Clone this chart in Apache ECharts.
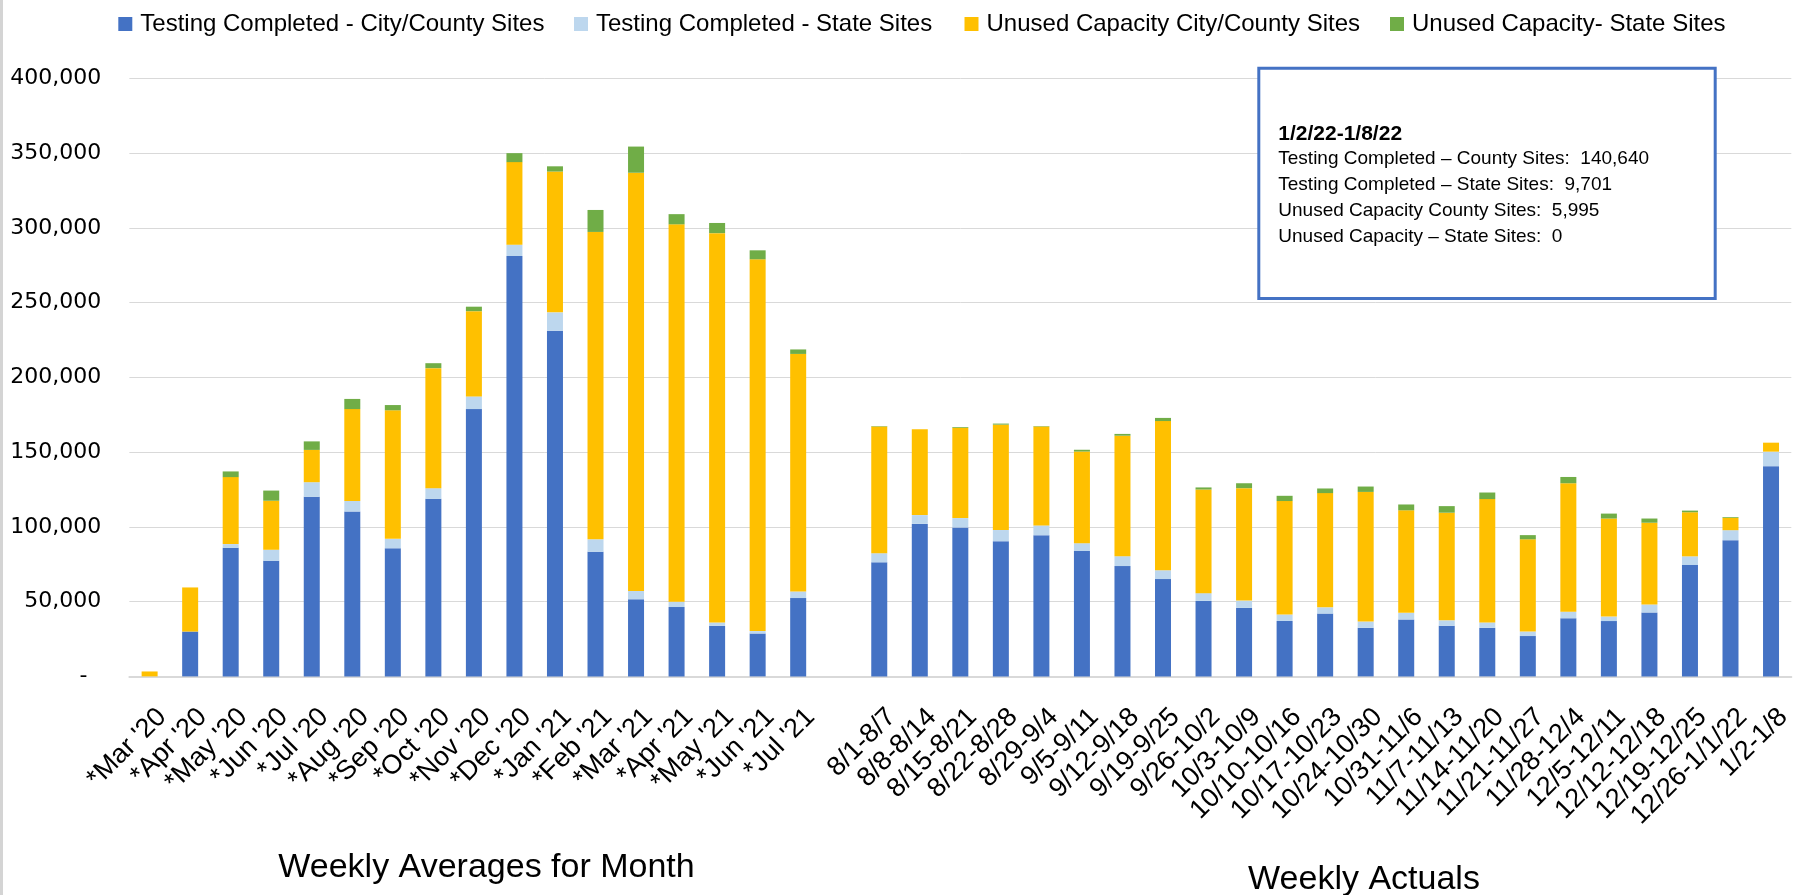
<!DOCTYPE html>
<html><head><meta charset="utf-8">
<script src="https://cdn.jsdelivr.net/npm/echarts@6/dist/echarts.min.js"></script>
<style>html,body{margin:0;padding:0;background:#fff}#c{width:1795px;height:895px}</style>
</head><body><div id="c"></div>
<script>
const categories = ["*Mar '20","*Apr '20","*May '20","*Jun '20","*Jul '20","*Aug '20","*Sep '20","*Oct '20","*Nov '20","*Dec '20","*Jan '21","*Feb '21","*Mar '21","*Apr '21","*May '21","*Jun '21","*Jul '21","",
"8/1-8/7","8/8-8/14","8/15-8/21","8/22-8/28","8/29-9/4","9/5-9/11","9/12-9/18","9/19-9/25","9/26-10/2","10/3-10/9","10/10-10/16","10/17-10/23","10/24-10/30","10/31-11/6","11/7-11/13","11/14-11/20","11/21-11/27","11/28-12/4","12/5-12/11","12/12-12/18","12/19-12/25","12/26-1/1/22","1/2-1/8"];

const testingCityCounty = [0,30000,86000,77300,120100,110300,85700,118800,178800,281200,231200,83300,51600,46400,33900,28700,52400,null,
76300,102000,99600,90400,94400,83900,73800,65100,50500,45800,37100,42000,32500,38100,33900,32500,27000,38900,37000,42800,74500,91100,140640];
const testingState = [0,0,2500,7400,9800,7100,6300,7100,8500,7600,12300,8400,5500,3500,2200,1600,4400,null,
6100,5900,6300,7500,6600,5200,6600,5900,5200,4900,4300,4200,4200,4400,3600,3600,3000,4400,3000,5300,5800,6700,9701];
const unusedCityCounty = [3300,29500,44800,32800,21600,61400,86000,80300,57000,55200,94200,205600,279800,252500,260400,248700,158900,null,
84800,57500,60400,70500,66200,61300,80600,99800,69300,75200,75900,76400,86700,68600,72000,82500,61700,85900,65600,54700,29500,8300,5995];
const unusedState = [0,0,3800,6800,5700,6800,3500,3300,3000,6000,3500,14700,17500,6800,6800,6000,3000,null,
300,0,500,700,300,1200,1200,2100,1400,3300,3500,3100,3600,3900,4400,4400,2800,4200,3300,2800,1100,500,0];

const seriesNames = ["Testing Completed - City/County Sites","Testing Completed - State Sites","Unused Capacity City/County Sites","Unused Capacity- State Sites"];
const seriesColors = ["#4472C4","#BDD7EE","#FFC000","#70AD47"];
const boxTitle = "1/2/22-1/8/22";
const groupTitles = ["Weekly Averages for Month","Weekly Actuals"];

const fmt = v => Number(v).toLocaleString('en-US');
const last = arr => arr[arr.length-1];
const boxLines = [
  "Testing Completed \u2013 County Sites:  " + fmt(last(testingCityCounty)),
  "Testing Completed \u2013 State Sites:  " + fmt(last(testingState)),
  "Unused Capacity County Sites:  " + fmt(last(unusedCityCounty)),
  "Unused Capacity \u2013 State Sites:  " + fmt(last(unusedState))
];

const SANS = '"Liberation Sans", Arial, sans-serif';
const chart = echarts.init(document.getElementById('c'), null, {renderer:'canvas'});

function leg(name, left){
  return {data:[{name:name, icon:'rect'}], left:left, top:12, padding:0, itemWidth:14, itemHeight:14,
    selectedMode:false, textStyle:{fontFamily:SANS, fontSize:24, color:'#000', padding:[0,0,0,3]}};
}
const dataArrays = [testingCityCounty, testingState, unusedCityCounty, unusedState];

const graphics = [
  {type:'rect', shape:{x:0,y:0,width:3,height:895}, style:{fill:'#d4d4d4'}, z:10},
  {type:'rect', shape:{x:1258.8,y:68.2,width:456.4,height:230.3}, style:{fill:'#fff', stroke:'#4472C4', lineWidth:3}, z:10},
  {type:'text', z:11, style:{text:boxTitle, x:1278.3, y:134, font:'bold 21px '+SANS, fill:'#000', verticalAlign:'middle', textVerticalAlign:'middle'}},
];
boxLines.forEach((t,i)=>{
  graphics.push({type:'text', z:11, style:{text:t, x:1278.3, y:159+26*i, font:'19px '+SANS, fill:'#000', verticalAlign:'middle', textVerticalAlign:'middle'}});
});
graphics.push({type:'text', z:11, style:{text:groupTitles[0], x:486.5, y:868, font:'34px '+SANS, fill:'#000', align:'center', textAlign:'center', verticalAlign:'middle', textVerticalAlign:'middle'}});
graphics.push({type:'text', z:11, style:{text:groupTitles[1], x:1364, y:880, font:'34px '+SANS, fill:'#000', align:'center', textAlign:'center', verticalAlign:'middle', textVerticalAlign:'middle'}});

chart.setOption({
  animation:false,
  backgroundColor:'#fff',
  legend:[leg(seriesNames[0],118.3), leg(seriesNames[1],574), leg(seriesNames[2],964.5), leg(seriesNames[3],1390)],
  grid:{left:129.35, top:78.4, width:1668, height:598},
  xAxis:{type:'category', data:categories, boundaryGap:true,
    axisTick:{show:false},
    axisLine:{lineStyle:{color:'#d9d9d9', width:2}},
    axisLabel:{interval:0, rotate:45, fontFamily:SANS, fontSize:27, color:'#000', margin:24, verticalAlign:'top', padding:[4,0,0,0]}},
  yAxis:{type:'value', min:0, max:400000, interval:50000,
    axisLine:{show:false}, axisTick:{show:false},
    splitLine:{lineStyle:{color:'#d9d9d9', width:1}},
    axisLabel:{formatter:v=> v===0 ? '-  ' : fmt(v), fontFamily:'"DejaVu Sans", Verdana, sans-serif', fontSize:22, color:'#000', margin:28}},
  series: seriesNames.map((n,i)=>({name:n, type:'bar', stack:'total', barWidth:16, data:dataArrays[i],
    itemStyle:{color:seriesColors[i]}, emphasis:{disabled:true}})),
  graphic: graphics
});
</script></body></html>
